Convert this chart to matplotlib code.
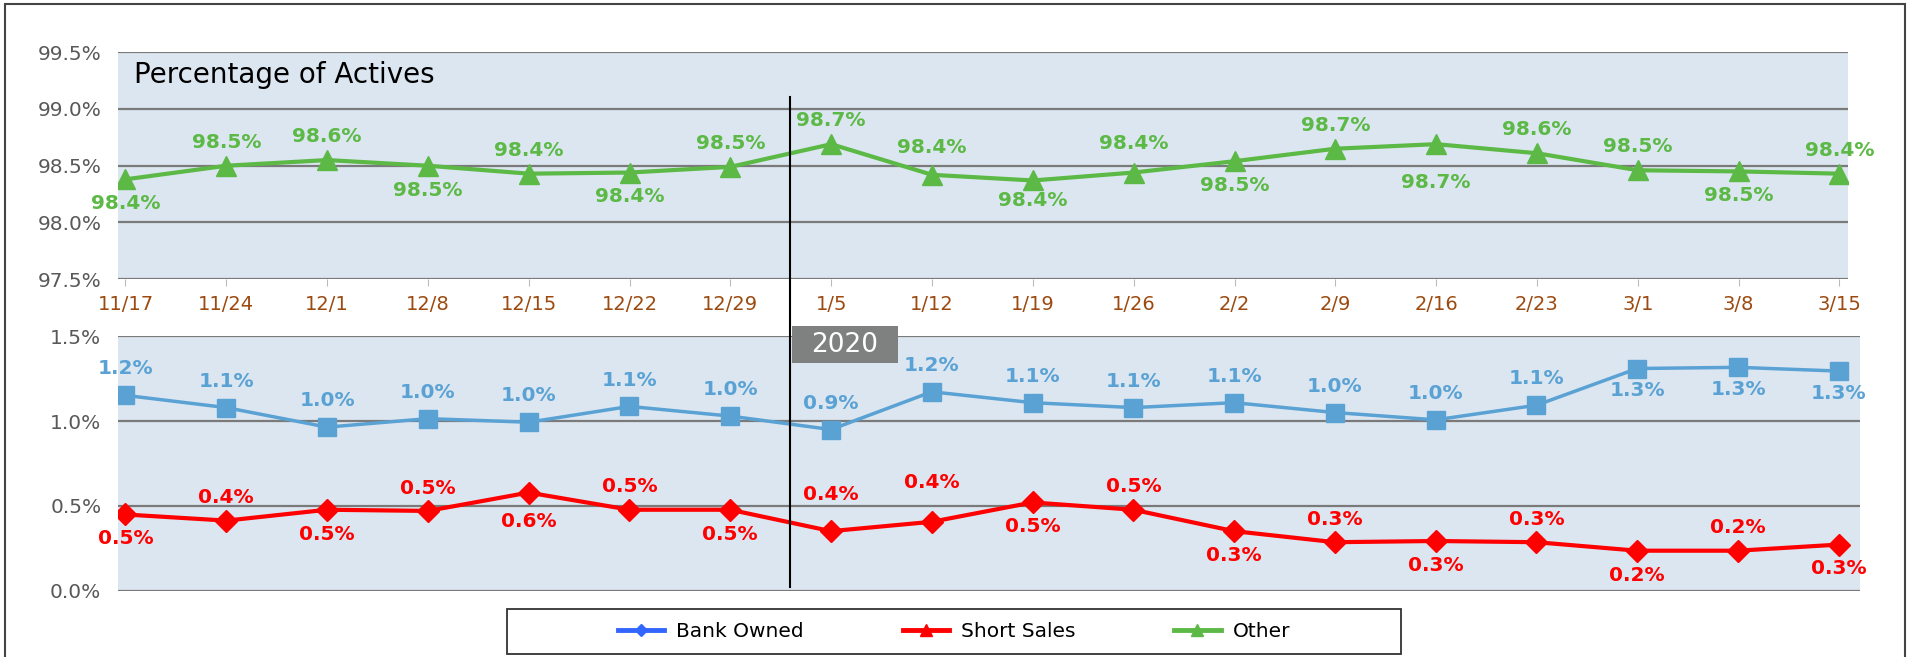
import matplotlib.pyplot as plt
from matplotlib.lines import Line2D
from matplotlib.patches import Rectangle
import matplotlib.transforms as mtransforms

# weekly dates
weeks = ['11/17', '11/24', '12/1', '12/8', '12/15', '12/22', '12/29', '1/5', '1/12',
         '1/19', '1/26', '2/2', '2/9', '2/16', '2/23', '3/1', '3/8', '3/15']

# Other (% of actives), top panel
other = [98.38, 98.50, 98.55, 98.50, 98.43, 98.44, 98.49, 98.69, 98.42,
         98.37, 98.44, 98.54, 98.65, 98.69, 98.61, 98.46, 98.45, 98.43]
other_labels = ['98.4%', '98.5%', '98.6%', '98.5%', '98.4%', '98.4%', '98.5%', '98.7%', '98.4%',
                '98.4%', '98.4%', '98.5%', '98.7%', '98.7%', '98.6%', '98.5%', '98.5%', '98.4%']
other_pos = ['b', 'a', 'a', 'b', 'a', 'b', 'a', 'a', 'a', 'b', 'a', 'b', 'a', 'b', 'a', 'a', 'b', 'a']

# Bank owned, bottom panel
bank = [1.151, 1.079, 0.964, 1.014, 0.993, 1.086, 1.029, 0.950, 1.172,
        1.108, 1.079, 1.108, 1.050, 1.007, 1.093, 1.309, 1.316, 1.294]
bank_labels = ['1.2%', '1.1%', '1.0%', '1.0%', '1.0%', '1.1%', '1.0%', '0.9%', '1.2%',
               '1.1%', '1.1%', '1.1%', '1.0%', '1.0%', '1.1%', '1.3%', '1.3%', '1.3%']
bank_pos = ['a'] * 15 + ['b', 'b', 'b']

# Short sales, bottom panel
short = [0.450, 0.414, 0.478, 0.471, 0.579, 0.478, 0.478, 0.352, 0.407,
         0.521, 0.478, 0.352, 0.287, 0.294, 0.287, 0.237, 0.237, 0.273]
short_labels = ['0.5%', '0.4%', '0.5%', '0.5%', '0.6%', '0.5%', '0.5%', '0.4%', '0.4%',
                '0.5%', '0.5%', '0.3%', '0.3%', '0.3%', '0.3%', '0.2%', '0.2%', '0.3%']
short_pos = ['b', 'a', 'b', 'a', 'b', 'a', 'b', 'a', 'a', 'b', 'a', 'b', 'a', 'b', 'a', 'b', 'a', 'b']

GREEN = '#5cb946'
BLUE = '#5aa2d4'
RED = '#ff0000'
BG = '#dce6f1'
GRID = '#7a7a7a'
TICK = '#595959'
BROWN = '#9c4a10'

x = list(range(len(weeks)))

fig = plt.figure(figsize=(19.1, 6.57), dpi=100)
ax_top = fig.add_axes([0.0618, 0.575, 0.906, 0.3455])
ax_bot = fig.add_axes([0.0618, 0.1005, 0.912, 0.388])


def style_axis(ax, ymin, ymax, step, xmax):
    ax.set_facecolor(BG)
    ax.set_ylim(ymin, ymax)
    ticks = []
    v = ymin
    while v <= ymax + 1e-9:
        ticks.append(round(v, 2))
        v += step
    ax.set_yticks(ticks)
    ax.set_yticklabels(['%.1f%%' % t for t in ticks], color=TICK, fontsize=14.5)
    ax.tick_params(axis='y', length=0, pad=12)
    ax.set_xlim(-0.074, xmax)
    for s in ax.spines.values():
        s.set_visible(False)
    ax.grid(axis='y', color=GRID, linewidth=1.6)
    ax.set_axisbelow(True)


def add_labels(ax, vals, labels, pos, color, off_up, off_down, extra=None):
    extra = extra or {}
    for i, (v, t, p) in enumerate(zip(vals, labels, pos)):
        dy = off_up if p == 'a' else -off_down
        dy += extra.get(i, 0)
        ax.annotate(t, (i, v), xytext=(0, dy), textcoords='offset points',
                    ha='center', va='center', color=color, fontsize=14.5,
                    fontweight='bold')


# top panel
style_axis(ax_top, 97.5, 99.5, 0.5, 17.09)
ax_top.plot(x, other, color=GREEN, linewidth=3, marker='^', markersize=14, zorder=3)
add_labels(ax_top, other, other_labels, other_pos, GREEN, 17, 17.5,
           extra={8: 3, 10: 4, 13: -10, 9: 3})
ax_top.set_xticks(x)
ax_top.set_xticklabels(weeks, color=BROWN, fontsize=14)
ax_top.tick_params(axis='x', length=5, color='#bbbbbb', pad=6)
ax_top.text(0.009, 0.9, 'Percentage of Actives', transform=ax_top.transAxes,
            fontsize=20, color='black', va='center', ha='left')

# bottom panel
style_axis(ax_bot, 0.0, 1.5, 0.5, 17.21)
ax_bot.plot(x, bank, color=BLUE, linewidth=2.5, marker='s', markersize=13.5, zorder=3)
ax_bot.plot(x, short, color=RED, linewidth=3, marker='D', markersize=11, zorder=3)
add_labels(ax_bot, bank, bank_labels, bank_pos, BLUE, 19, 16)
add_labels(ax_bot, short, short_labels, short_pos, RED, 16.5, 17.5,
           extra={7: 10, 8: 12, 4: -3})
ax_bot.set_xticks([])

# divider for the new year
split_x = 6.59
trans = mtransforms.blended_transform_factory(ax_top.transData, fig.transFigure)
fig.add_artist(Line2D([split_x, split_x], [0.1065, 0.852], transform=trans,
                      color='black', linewidth=1.5))
fig.add_artist(Rectangle((split_x + 0.02, 0.447), 1.05, 0.057, transform=trans,
                         facecolor='#7f8180', edgecolor='none'))
fig.text(split_x + 0.545, 0.4755, '2020', transform=trans, color='white',
         fontsize=19, ha='center', va='center')

# legend, frame drawn separately to get the wide padding
handles = [
    Line2D([], [], color='#3366ff', linewidth=3.5, marker='D', markersize=6),
    Line2D([], [], color=RED, linewidth=3.5, marker='^', markersize=8),
    Line2D([], [], color=GREEN, linewidth=3.5, marker='^', markersize=8),
]
fig.legend(handles, ['Bank Owned', 'Short Sales', 'Other'], ncol=3,
           loc='center', bbox_to_anchor=(0.4995, 0.039), fontsize=14.5,
           frameon=False, handlelength=2.3, handletextpad=0.6, columnspacing=4.9)
fig.add_artist(Rectangle((0.2654, 0.0046), 0.4681, 0.0685, transform=fig.transFigure,
                         fill=False, edgecolor='#333333', linewidth=1.3))

# outer border
fig.add_artist(Rectangle((5 / 1910, -0.02), 1900 / 1910, 1.02 - 4 / 657,
                         transform=fig.transFigure, fill=False,
                         edgecolor='#444444', linewidth=1.5))

fig.savefig('out.png', dpi=100)
